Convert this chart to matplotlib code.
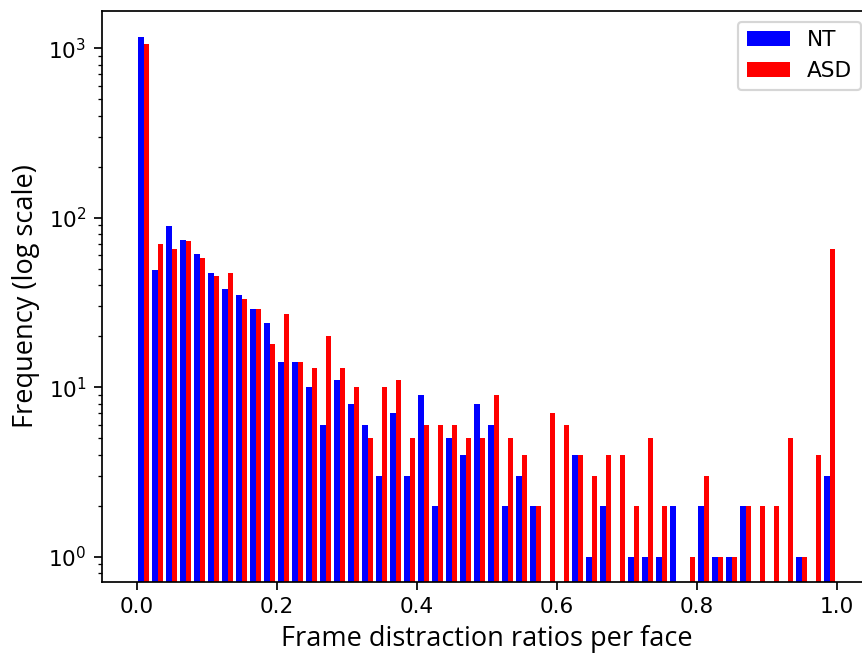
import numpy as np
import matplotlib
matplotlib.use("Agg")
import matplotlib.pyplot as plt

# Histogram counts per bin (50 bins from 0 to 1)
nt_counts = [1159, 49, 89, 74, 61, 47, 38, 35, 29, 24,
             14, 14, 10, 6, 11, 8, 6, 3, 7, 3,
             9, 2, 5, 4, 8, 6, 2, 3, 2, 0,
             0, 4, 1, 2, 0, 1, 1, 1, 2, 0,
             2, 1, 1, 2, 0, 0, 0, 1, 0, 3]
asd_counts = [1059, 70, 65, 73, 58, 45, 47, 33, 29, 18,
              27, 14, 13, 20, 13, 10, 5, 10, 11, 5,
              6, 6, 6, 5, 5, 9, 5, 4, 2, 7,
              6, 4, 3, 4, 4, 2, 5, 2, 0, 1,
              3, 1, 1, 2, 2, 2, 5, 1, 4, 65]
series_labels = ["NT", "ASD"]
series_colors = ["blue", "red"]
n_bins = 50
x_label = "Frame distraction ratios per face"
y_label = "Frequency (log scale)"

edges = np.linspace(0.0, 1.0, n_bins + 1)
centers = 0.5 * (edges[:-1] + edges[1:])

DPI = 155.3
W, H = 862, 655
fig = plt.figure(figsize=(W / DPI, H / DPI), dpi=DPI)
ax = fig.add_axes([101.7 / W, (H - 581.7) / H, 770.0 / W, 570.7 / H])

ax.hist([centers, centers], bins=edges, weights=[nt_counts, asd_counts],
        color=series_colors, label=series_labels, log=True)
ax.set_xlim(-0.05, 1.05)
ax.set_ylim(0.712, 1657)

label_font = "Open Sans"
xl = ax.set_xlabel(x_label, fontsize=12, family=label_font)
yl = ax.set_ylabel(y_label, fontsize=12, family=label_font)
renderer = fig.canvas.get_renderer()
wx = xl.get_window_extent(renderer).width
fs = 12 * 412.0 / wx
xl.set_fontsize(fs)
yl.set_fontsize(fs)
ax.legend(loc="upper right", fontsize=10)

fig.savefig("out.png", dpi=DPI)
